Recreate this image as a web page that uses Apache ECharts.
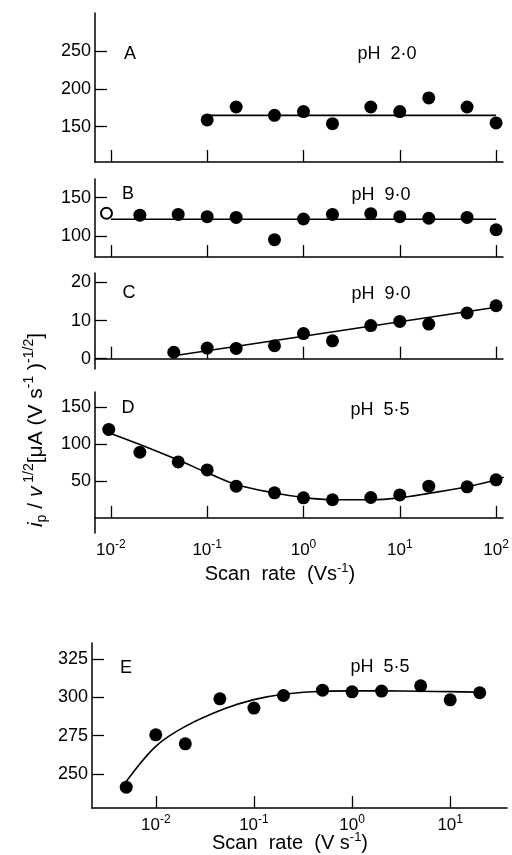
<!DOCTYPE html>
<html><head><meta charset="utf-8">
<script src="https://cdn.jsdelivr.net/npm/echarts@6/dist/echarts.min.js"></script>
<style>html,body{margin:0;padding:0;background:#fff}#c{width:512px;height:855px}</style>
</head><body><div id="c"></div>
<script>
// ---- data ----
const decadeTicks = [0.01, 0.1, 1, 10, 100];
const decadeTicksE = [0.01, 0.1, 1, 10];

const xA = [0.1, 0.2, 0.5, 1, 2, 5, 10, 20, 50, 100];
const yA = [159, 176, 165, 170, 154, 176, 170, 188, 176, 155];
const fitAx = [0.1, 100];
const fitAy = [165, 165];
const ticksA = [150, 200, 250];

const xB = [0.02, 0.05, 0.1, 0.2, 0.5, 1, 2, 5, 10, 20, 50, 100];
const yB = [127, 128, 125, 124, 95, 122, 128, 129, 125, 123, 124, 108];
const xBopen = [0.009];
const yBopen = [129.5];
const fitBx = [0.01, 100];
const fitBy = [121.6, 121.6];
const ticksB = [100, 150];

const xC = [0.045, 0.1, 0.2, 0.5, 1, 2, 5, 10, 20, 50, 100];
const yC = [1.7, 2.8, 2.7, 3.4, 6.6, 4.7, 8.7, 9.8, 9.1, 12, 13.9];
const fitCx = [0.045, 100];
const fitCy = [0.8, 13.5];
const ticksC = [0, 10, 20];

const xD = [0.0095, 0.02, 0.05, 0.1, 0.2, 0.5, 1, 2, 5, 10, 20, 50, 100];
const yD = [119.5, 88.6, 75.5, 64.7, 42.8, 33.8, 27, 24.4, 27.5, 31, 42.8, 41.9, 51.3];
const fitDx = [0.0095, 0.02, 0.05, 0.1, 0.2, 0.5, 1, 2, 5, 10, 20, 50, 100, 120];
const fitDy = [115, 99, 78, 61, 45, 33.5, 27.5, 24.5, 24.5, 27, 33, 42, 51, 55];
const ticksD = [50, 100, 150];

const xE = [0.005, 0.01, 0.02, 0.045, 0.1, 0.2, 0.5, 1, 2, 5, 10, 20];
const yE = [241.3, 275.5, 269.6, 299, 293, 301.2, 304.7, 303.6, 304.1, 307.5, 298.4, 303];
const fitEx = [0.005, 0.01, 0.02, 0.05, 0.1, 0.2, 0.5, 1, 2, 5, 10, 20];
const fitEy = [245, 268, 281, 292.5, 298.5, 302, 304, 304.2, 304.2, 304, 303.7, 303.4];
const ticksE = [250, 275, 300, 325];

// ---- helpers ----
const FF = '"Liberation Sans", Arial, sans-serif';
const pairs = (xs, ys) => xs.map((x, i) => [x, ys[i]]);
const supRich = {
  b: { fontSize: 17, fontFamily: FF, color: '#000', lineHeight: 22 },
  s: { fontSize: 12, fontFamily: FF, color: '#000', verticalAlign: 'top', lineHeight: 12 }
};
const axLine = { show: true, lineStyle: { color: '#000', width: 1.5 } };

function xAxisDef(gi, min, max, ticks, showLabels) {
  return {
    type: 'log', logBase: 10, gridIndex: gi, min: min, max: max,
    axisLine: axLine,
    axisTick: { show: true, inside: true, length: 12, customValues: ticks, lineStyle: { color: '#000', width: 1.3 } },
    axisLabel: {
      show: showLabels, customValues: ticks, margin: 6,
      formatter: v => '{b|10}{s|' + Math.round(Math.log10(v)) + '}',
      rich: supRich
    },
    splitLine: { show: false }, minorTick: { show: false }
  };
}
function yAxisDef(gi, min, max, ticks) {
  return {
    type: 'value', gridIndex: gi, min: min, max: max,
    axisLine: axLine,
    axisTick: { show: true, inside: true, length: 12, customValues: ticks, lineStyle: { color: '#000', width: 1.3 } },
    axisLabel: { customValues: ticks, margin: 4, fontSize: 18, fontFamily: FF, color: '#000' },
    splitLine: { show: false }
  };
}
function dots(gi, xs, ys) {
  return { type: 'scatter', xAxisIndex: gi, yAxisIndex: gi, data: pairs(xs, ys),
    symbol: 'circle', symbolSize: 13, itemStyle: { color: '#000', opacity: 1 }, z: 3 };
}
function fit(gi, xs, ys, smooth) {
  return { type: 'line', xAxisIndex: gi, yAxisIndex: gi, data: pairs(xs, ys), smooth: smooth ? 0.35 : false,
    showSymbol: false, symbol: 'none', lineStyle: { color: '#000', width: 1.6 }, z: 2 };
}
function label(x, y, txt, size) {
  return { type: 'text', x: x, y: y,
    style: { text: txt, fill: '#000', fontSize: size || 18, fontFamily: FF, align: 'center', verticalAlign: 'middle' } };
}

const gridBase = { outerBoundsMode: 'none', containLabel: false };
const option = {
  animation: false,
  backgroundColor: '#fff',
  grid: [
    Object.assign({ left: 95, top: 13, width: 408, height: 149 }, gridBase),
    Object.assign({ left: 95, top: 179, width: 408, height: 78 }, gridBase),
    Object.assign({ left: 95, top: 273, width: 408, height: 96 }, gridBase),
    Object.assign({ left: 95, top: 392, width: 408, height: 141 }, gridBase),
    Object.assign({ left: 92, top: 643, width: 415, height: 165 }, gridBase)
  ],
  xAxis: [
    xAxisDef(0, 0.00684, 118, decadeTicks, false),
    xAxisDef(1, 0.00684, 118, decadeTicks, false),
    xAxisDef(2, 0.00684, 118, decadeTicks, false),
    xAxisDef(3, 0.00684, 118, decadeTicks, true),
    xAxisDef(4, 0.00224, 37.9, decadeTicksE, true)
  ],
  yAxis: [
    yAxisDef(0, 103.5, 300, ticksA),
    yAxisDef(1, 72.4, 174.2, ticksB),
    yAxisDef(2, -2.7, 22.5, ticksC),
    yAxisDef(3, -20.5, 170, ticksD),
    yAxisDef(4, 227.7, 335.5, ticksE)
  ],
  series: [
    dots(0, xA, yA), fit(0, fitAx, fitAy, false),
    dots(1, xB, yB), fit(1, fitBx, fitBy, false),
    { type: 'scatter', xAxisIndex: 1, yAxisIndex: 1, data: pairs(xBopen, yBopen), symbol: 'emptyCircle',
      symbolSize: 11, itemStyle: { color: '#000', borderColor: '#000', borderWidth: 1.5, opacity: 1 }, z: 3 },
    dots(2, xC, yC), fit(2, fitCx, fitCy, false),
    dots(3, xD, yD), fit(3, fitDx, fitDy, true),
    dots(4, xE, yE), fit(4, fitEx, fitEy, true)
  ],
  graphic: [
    label(130, 54, 'A'), label(387, 54, 'pH  2·0'),
    label(128, 194, 'B'), label(381, 195, 'pH  9·0'),
    label(129, 293, 'C'), label(381, 294, 'pH  9·0'),
    label(128, 408, 'D'), label(380, 410, 'pH  5·5'),
    label(126, 668, 'E'), label(380, 667, 'pH  5·5'),
    { type: 'text', x: 280, y: 574,
      style: { text: '{n|Scan  rate  (Vs}{s|-1}{n|)}', align: 'center', verticalAlign: 'middle',
        rich: { n: { fontSize: 20, fontFamily: FF, fill: '#000', lineHeight: 24 },
                s: { fontSize: 13, fontFamily: FF, fill: '#000', verticalAlign: 'top', lineHeight: 13 } } } },
    { type: 'text', x: 290, y: 843,
      style: { text: '{n|Scan  rate  (V s}{s|-1}{n|)}', align: 'center', verticalAlign: 'middle',
        rich: { n: { fontSize: 20, fontFamily: FF, fill: '#000', lineHeight: 24 },
                s: { fontSize: 13, fontFamily: FF, fill: '#000', verticalAlign: 'top', lineHeight: 13 } } } },
    { type: 'text', x: 36, y: 430, rotation: Math.PI / 2,
      style: { text: '{i|i}{sub|p}{n| / }{i|v}{sup| 1/2}{n|[μA (V s}{sup|-1}{n| )}{sup|-1/2}{n|]}',
        align: 'center', verticalAlign: 'middle',
        rich: { n: { fontSize: 21, fontFamily: FF, fill: '#000', lineHeight: 27 },
                i: { fontSize: 21, fontFamily: FF, fontStyle: 'italic', fill: '#000', lineHeight: 27 },
                sup: { fontSize: 14, fontFamily: FF, fill: '#000', verticalAlign: 'top', lineHeight: 14 },
                sub: { fontSize: 14, fontFamily: FF, fill: '#000', verticalAlign: 'bottom', lineHeight: 14 } } } }
  ]
};
const chart = echarts.init(document.getElementById('c'), null, { renderer: 'canvas' });
chart.setOption(option);
</script></body></html>
